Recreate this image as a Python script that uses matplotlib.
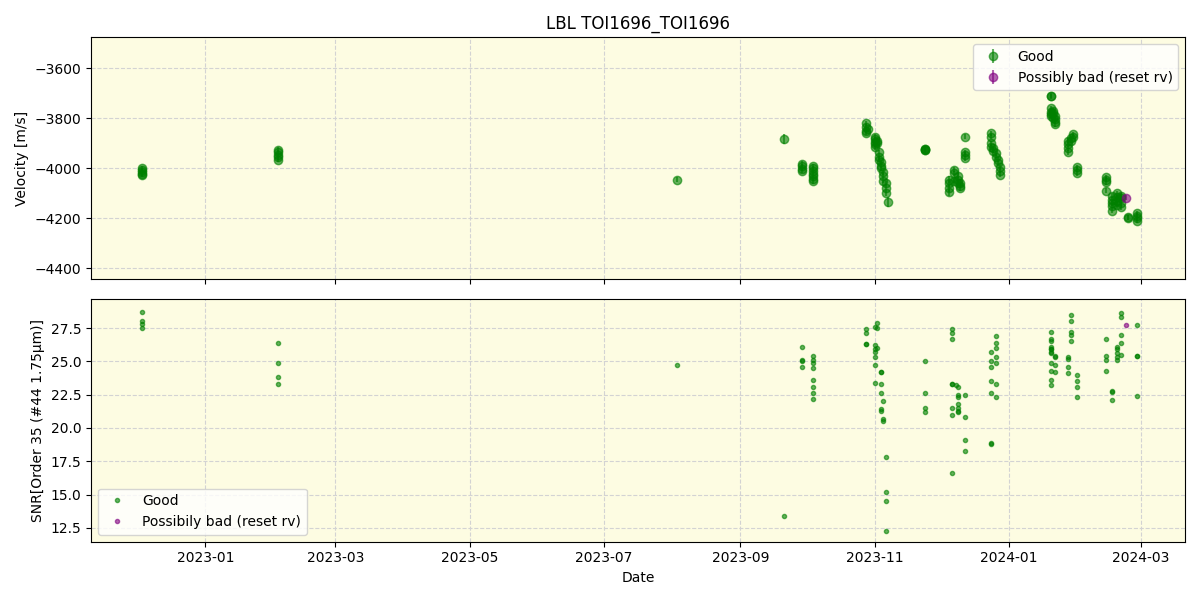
import numpy as np
import matplotlib
matplotlib.use("Agg")
import matplotlib.pyplot as plt
import matplotlib.dates as mdates

# ---- Velocity data (grouped by night) ----
rv_group_dates = ["2022-12-03", "2023-02-03", "2023-08-03", "2023-09-21", "2023-09-29",
                  "2023-10-04", "2023-10-28", "2023-10-29", "2023-11-01", "2023-11-02",
                  "2023-11-03", "2023-11-04", "2023-11-05", "2023-11-06", "2023-11-07",
                  "2023-11-24", "2023-12-05", "2023-12-07", "2023-12-09", "2023-12-10",
                  "2023-12-12", "2023-12-24", "2023-12-25", "2023-12-26", "2023-12-27",
                  "2023-12-28", "2024-01-20", "2024-01-21", "2024-01-22", "2024-01-28",
                  "2024-01-29", "2024-01-30", "2024-02-01", "2024-02-14", "2024-02-17",
                  "2024-02-19", "2024-02-21", "2024-02-24", "2024-02-28"]
rv_group_values = [
    [-4000, -4008, -4015, -4022, -4026],
    [-3925, -3935, -3948, -3955, -3965],
    [-4045],
    [-3885],
    [-3982, -3992, -4002, -4010],
    [-3992, -4000, -4012, -4022, -4032, -4042, -4052],
    [-3820, -3835, -3850, -3858],
    [-3845],
    [-3875, -3885, -3895, -3905, -3915],
    [-3890, -3900],
    [-3935, -3955, -3965],
    [-3975, -3990, -4000],
    [-4015, -4030, -4050],
    [-4060, -4080, -4100],
    [-4135],
    [-3922, -3924, -3926, -3928],
    [-4045, -4060, -4080, -4095],
    [-4005, -4020, -4050],
    [-4030, -4045, -4060],
    [-4070, -4080, -4060],
    [-3875, -3935, -3945, -3960],
    [-3860, -3875, -3900, -3915],
    [-3920, -3930],
    [-3940, -3955],
    [-3965, -3980],
    [-3995, -4010, -4025],
    [-3710, -3712, -3760, -3775, -3785, -3790],
    [-3770, -3780, -3800],
    [-3790, -3805, -3815, -3825],
    [-3890, -3905, -3920, -3935],
    [-3880, -3890],
    [-3865, -3875],
    [-3995, -4005, -4020],
    [-4035, -4045, -4055, -4090],
    [-4110, -4125, -4140, -4150, -4170],
    [-4100, -4115, -4130, -4145],
    [-4110, -4120, -4140, -4155],
    [-4195, -4198],
    [-4180, -4190, -4200, -4210],
]
# typical error and the nights with noticeably larger errors
rv_err_default = 10.0
rv_err_special = {"2023-09-21": 20.0, "2023-11-07": 20.0, "2023-12-05": 14.0}
rv_bad_dates = ["2024-02-23"]
rv_bad_values = [-4118]
rv_bad_err = [10.0]

# ---- SNR data ----
snr_group_dates = ["2022-12-03", "2023-02-03", "2023-08-03", "2023-09-21", "2023-09-29",
                   "2023-10-04", "2023-10-28", "2023-11-01", "2023-11-02", "2023-11-04",
                   "2023-11-05", "2023-11-06", "2023-11-24", "2023-12-06", "2023-12-08",
                   "2023-12-09", "2023-12-12", "2023-12-24", "2023-12-26", "2024-01-20",
                   "2024-01-22", "2024-01-28", "2024-01-29", "2024-02-01", "2024-02-14",
                   "2024-02-17", "2024-02-19", "2024-02-21", "2024-02-28"]
snr_group_values = [
    [28.7, 28.0, 27.8, 27.5],
    [26.4, 24.9, 23.8, 23.3],
    [24.7],
    [13.4],
    [26.1, 25.1, 25.0, 24.6],
    [25.4, 25.1, 24.9, 24.5, 23.6, 23.1, 22.6, 22.2],
    [27.4, 27.1, 26.3, 26.3],
    [27.6, 26.2, 25.9, 25.7, 25.3, 24.7, 23.4],
    [27.9, 27.5, 26.0],
    [24.2, 24.2, 23.3, 22.6, 21.4, 21.3],
    [22.0, 20.7, 20.5],
    [17.8, 15.2, 14.5, 12.3],
    [25.0, 22.6, 21.5, 21.2],
    [27.4, 27.1, 26.7, 23.3, 23.3, 21.5, 21.0, 16.6],
    [23.2],
    [23.1, 22.5, 22.3, 21.8, 21.5, 21.3, 21.2],
    [22.5, 20.8, 19.1, 18.3],
    [25.7, 25.0, 24.6, 23.5, 22.6, 18.9, 18.8],
    [26.9, 26.4, 26.0, 25.3, 24.9, 23.3, 22.3],
    [27.2, 26.7, 26.5, 26.1, 25.9, 25.9, 25.7, 25.6, 24.9, 24.3, 23.6, 23.2],
    [25.3, 25.4, 24.7, 24.2],
    [25.3, 25.2, 24.6, 24.1],
    [28.5, 28.0, 27.2, 27.0, 26.5],
    [24.0, 23.5, 23.1, 22.3],
    [26.7, 25.4, 25.1, 24.3],
    [22.8, 22.7, 22.1],
    [26.1, 25.9, 25.6, 25.3, 25.1],
    [28.6, 28.3, 27.0, 26.4, 25.5],
    [27.7, 25.4, 25.4, 22.4],
]
snr_bad_dates = ["2024-02-23"]
snr_bad_values = [27.7]


def expand(dates, groups):
    d = []
    v = []
    for dt, vals in zip(dates, groups):
        for x in vals:
            d.append(np.datetime64(dt))
            v.append(x)
    return np.array(d), np.array(v, dtype=float)


rv_d, rv_v = expand(rv_group_dates, rv_group_values)
rv_e = np.array([rv_err_special.get(str(d), rv_err_default) for d in rv_d])
snr_d, snr_v = expand(snr_group_dates, snr_group_values)
rvb_d = np.array([np.datetime64(d) for d in rv_bad_dates])
snrb_d = np.array([np.datetime64(d) for d in snr_bad_dates])

bg = "#fdfce2"
fig, (ax1, ax2) = plt.subplots(2, 1, figsize=(12, 6), dpi=100, sharex=True)

ax1.errorbar(rv_d, rv_v, yerr=rv_e, fmt="o", color="green",
             alpha=0.6, markersize=6, label="Good")
ax1.errorbar(rvb_d, rv_bad_values, yerr=rv_bad_err, fmt="o",
             color="purple", alpha=0.6, markersize=6, label="Possibly bad (reset rv)")
ax1.set_ylabel("Velocity [m/s]")
ax1.set_title("LBL TOI1696_TOI1696")
ax1.set_ylim(-4444, -3476)
ax1.set_facecolor(bg)
ax1.grid(True, linestyle="--", color="lightgray")
ax1.legend(loc="upper right")

ax2.plot(snr_d, snr_v, "o", color="green", alpha=0.6, markersize=3, label="Good")
ax2.plot(snrb_d, snr_bad_values, "o", color="purple", alpha=0.6, markersize=3,
         label="Possibily bad (reset rv)")
ax2.set_ylabel("SNR[Order 35 (#44 1.75μm)]")
ax2.set_xlabel("Date")
ax2.set_ylim(11.46, 29.66)
ax2.set_facecolor(bg)
ax2.grid(True, linestyle="--", color="lightgray")
ax2.legend(loc="lower left")

ax2.set_xlim(np.datetime64("2022-11-10"), np.datetime64("2024-03-21"))
ax2.xaxis.set_major_locator(mdates.MonthLocator(bymonth=[1, 3, 5, 7, 9, 11]))
ax2.xaxis.set_major_formatter(mdates.DateFormatter("%Y-%m"))

fig.tight_layout()
fig.savefig("out.png")
